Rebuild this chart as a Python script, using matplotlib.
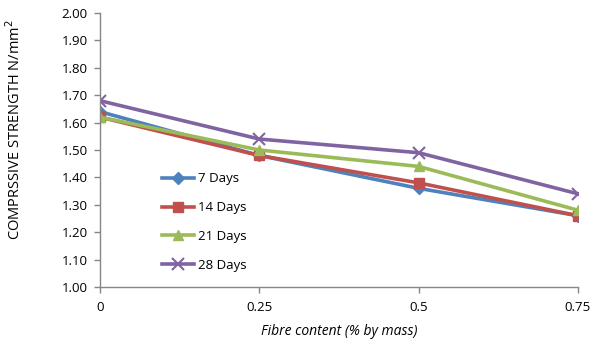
import matplotlib
matplotlib.use('Agg')
import matplotlib.pyplot as plt

plt.rcParams['font.family'] = ['Open Sans', 'DejaVu Sans']

fibre = [0, 0.25, 0.5, 0.75]
days7 = [1.64, 1.48, 1.36, 1.26]
days14 = [1.62, 1.48, 1.38, 1.26]
days21 = [1.62, 1.50, 1.44, 1.28]
days28 = [1.68, 1.54, 1.49, 1.34]
series_names = ['7 Days', '14 Days', '21 Days', '28 Days']
yticks = [1.00, 1.10, 1.20, 1.30, 1.40, 1.50, 1.60, 1.70, 1.80, 1.90, 2.00]

fig = plt.figure(figsize=(6.02, 3.44), dpi=100)
ax = fig.add_axes([0.166, 0.166, 0.794, 0.796])

styles = [('#4F81BD', 'D', 6), ('#C0504D', 's', 7), ('#9BBB59', '^', 7), ('#8064A2', 'x', 8)]
for vals, name, (col, mk, ms) in zip([days7, days14, days21, days28], series_names, styles):
    ax.plot(fibre, vals, color=col, lw=2.6, marker=mk, ms=ms, mew=1.5 if mk == 'x' else 1,
            mfc=col, mec=col, label=name)

ax.set_xlim(0, 0.75)
ax.set_ylim(1.0, 2.0)
ax.set_xticks(fibre)
ax.set_xticklabels(['0', '0.25', '0.5', '0.75'])
ax.set_yticks(yticks)
ax.set_yticklabels(['%.2f' % v for v in yticks])
ax.tick_params(axis='both', colors='#868686', labelcolor='black', labelsize=9.5, length=4, width=1)
ax.tick_params(axis='x', pad=6)
ax.tick_params(axis='y', pad=5)
for side in ['top', 'right']:
    ax.spines[side].set_visible(False)
for side in ['left', 'bottom']:
    ax.spines[side].set_color('#868686')
    ax.spines[side].set_linewidth(1)

ax.set_xlabel('Fibre content (% by mass)', fontsize=10, style='italic')
ax.set_ylabel('COMPRSSIVE STRENGTH N/mm$^2$', fontsize=10.5)
ax.xaxis.set_label_coords(0.5, -0.135)
ax.yaxis.set_label_coords(-0.159, 0.573)

leg = ax.legend(loc='upper left', bbox_to_anchor=(0.13, 0.418), frameon=False, fontsize=9.5,
                handlelength=2.4, handletextpad=0.3, labelspacing=1.2, borderaxespad=0,
                borderpad=0)

fig.savefig('out.png', dpi=100)
